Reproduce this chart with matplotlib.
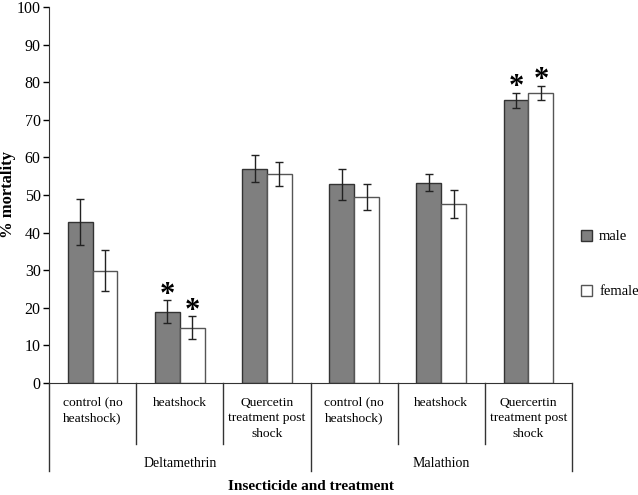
import matplotlib
matplotlib.use("Agg")
import matplotlib.pyplot as plt
import matplotlib.transforms as mtransforms
import numpy as np

plt.rcParams["font.family"] = ["Liberation Serif", "DejaVu Serif"]

# data
treatments = ["control (no\nheatshock)", "heatshock", "Quercetin\ntreatment post\nshock",
              "control (no\nheatshock)", "heatshock", "Quercertin\ntreatment post\nshock"]
insecticides = ["Deltamethrin", "Malathion"]
male = [42.7, 19.0, 57.0, 52.8, 53.3, 75.2]
male_err = [6.1, 3.0, 3.6, 4.2, 2.3, 2.0]
female = [29.9, 14.7, 55.6, 49.5, 47.6, 77.2]
female_err = [5.5, 3.0, 3.1, 3.4, 3.7, 1.9]
male_sig = [False, True, False, False, False, True]
female_sig = [False, True, False, False, False, True]

fig = plt.figure(figsize=(6.38, 4.95), dpi=100)
ax = fig.add_axes([0.0768, 0.2263, 0.8198, 0.7596])

x = np.arange(len(treatments))
w = 0.285
err_kw = dict(ecolor="#222222", elinewidth=1.0, capsize=3, capthick=1.0)
ax.bar(x - w / 2, male, w, yerr=male_err, color="#7f7f7f", edgecolor="#333333",
       linewidth=1.0, label="male", error_kw=err_kw, zorder=2)
ax.bar(x + w / 2, female, w, yerr=female_err, color="white", edgecolor="#555555",
       linewidth=1.0, label="female", error_kw=err_kw, zorder=2)

# significance stars above the error bars
for i in x:
    if male_sig[i]:
        ax.text(i - w / 2, male[i] + male_err[i] - 2.6, "*", ha="center", va="bottom",
                fontsize=22, fontweight="bold")
    if female_sig[i]:
        ax.text(i + w / 2, female[i] + female_err[i] - 2.6, "*", ha="center", va="bottom",
                fontsize=22, fontweight="bold")

ax.set_xlim(-0.5, len(treatments) - 0.5)
ax.set_ylim(0, 100)
ax.set_yticks(np.arange(0, 101, 10))
ax.tick_params(axis="y", labelsize=11.5, length=4, width=1, direction="out", pad=2)
ax.set_xticks([])
for s in ["top", "right"]:
    ax.spines[s].set_visible(False)
ax.spines["left"].set_color("#333333")
ax.spines["bottom"].set_color("#333333")

# category separators and labels below the axis
trans = mtransforms.blended_transform_factory(ax.transData, ax.transAxes)
for b in np.arange(len(treatments) + 1) - 0.5:
    bottom = -0.234 if b in (-0.5, 2.5, 5.5) else -0.162
    ax.plot([b, b], [0, bottom], color="#333333", lw=1.0, transform=trans, clip_on=False)
for i, lab in enumerate(treatments):
    ax.text(i, -0.036, lab, transform=trans, ha="center", va="top", fontsize=9.7,
            linespacing=1.4)
for j, name in enumerate(insecticides):
    ax.text(3 * j + 1, -0.213, name, transform=trans, ha="center", va="center", fontsize=10)

ax.text(2.5, -0.275, "Insecticide and treatment", transform=trans, ha="center", va="center",
        fontsize=11, fontweight="bold")
ax.set_ylabel("% mortality", fontsize=12, fontweight="bold")
ax.yaxis.set_label_coords(-0.064, 0.5)

ax.legend(loc="center left", bbox_to_anchor=(1.017, 0.316), frameon=False, fontsize=10.5,
          handlelength=0.75, handleheight=0.75, handletextpad=0.5, labelspacing=2.85,
          borderaxespad=0, borderpad=0)

fig.savefig("out.png", dpi=100)
